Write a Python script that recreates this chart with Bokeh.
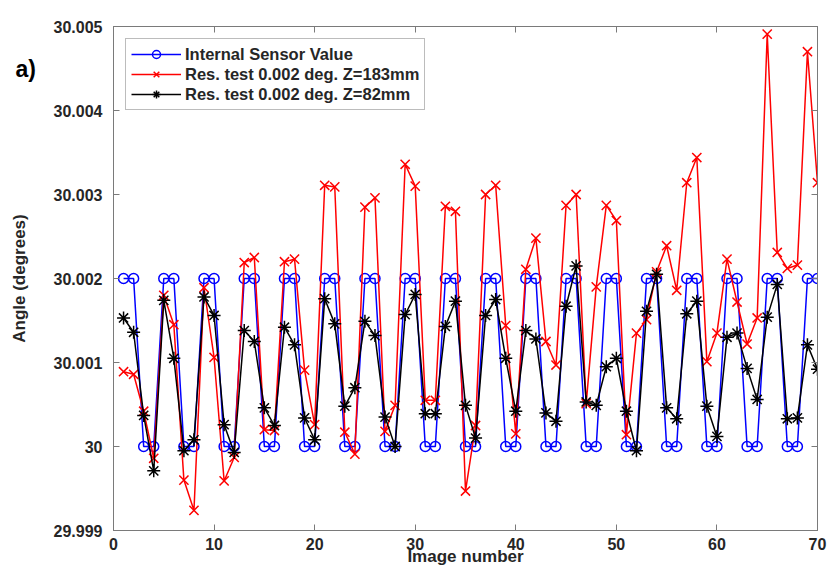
from bokeh.plotting import figure
from bokeh.models import (LinearAxis, FixedTicker, CustomJSTickFormatter, Label,
                          Legend, LegendItem, Range1d)
from bokeh.embed import file_html
from bokeh.resources import INLINE

image_number = list(range(1, 71))

internal_sensor = [
    30.002, 30.002, 30.000, 30.000, 30.002, 30.002, 30.000, 30.000, 30.002, 30.002,
    30.000, 30.000, 30.002, 30.002, 30.000, 30.000, 30.002, 30.002, 30.000, 30.000,
    30.002, 30.002, 30.000, 30.000, 30.002, 30.002, 30.000, 30.000, 30.002, 30.002,
    30.000, 30.000, 30.002, 30.002, 30.000, 30.000, 30.002, 30.002, 30.000, 30.000,
    30.002, 30.002, 30.000, 30.000, 30.002, 30.002, 30.000, 30.000, 30.002, 30.002,
    30.000, 30.000, 30.002, 30.002, 30.000, 30.000, 30.002, 30.002, 30.000, 30.000,
    30.002, 30.002, 30.000, 30.000, 30.002, 30.002, 30.000, 30.000, 30.002, 30.002,
]

res_z183 = [
    30.00089, 30.00086, 30.00042, 29.99986, 30.00180, 30.00145, 29.99960, 29.99924, 30.00189, 30.00106,
    29.99959, 29.99987, 30.00219, 30.00225, 30.00020, 30.00019, 30.00220, 30.00223, 30.00091, 30.00026,
    30.00311, 30.00309, 30.00017, 29.99991, 30.00285, 30.00296, 30.00018, 30.00049, 30.00336, 30.00310,
    30.00055, 30.00055, 30.00286, 30.00280, 29.99947, 30.00025, 30.00300, 30.00311, 30.00144, 30.00015,
    30.00211, 30.00248, 30.00125, 30.00097, 30.00287, 30.00300, 30.00051, 30.00190, 30.00287, 30.00269,
    30.00014, 30.00135, 30.00151, 30.00208, 30.00239, 30.00186, 30.00314, 30.00344, 30.00101, 30.00135,
    30.00223, 30.00172, 30.00122, 30.00153, 30.00491, 30.00231, 30.00212, 30.00216, 30.00470, 30.00314,
]

res_z82 = [
    30.00153, 30.00136, 30.00037, 29.99971, 30.00174, 30.00105, 29.99995, 30.00008, 30.00178, 30.00156,
    30.00026, 29.99993, 30.00138, 30.00125, 30.00046, 30.00025, 30.00142, 30.00121, 30.00034, 30.00008,
    30.00176, 30.00146, 30.00048, 30.00070, 30.00149, 30.00132, 30.00035, 30.00000, 30.00157, 30.00181,
    30.00039, 30.00039, 30.00143, 30.00173, 30.00049, 30.00010, 30.00156, 30.00175, 30.00105, 30.00042,
    30.00138, 30.00128, 30.00040, 30.00030, 30.00167, 30.00215, 30.00053, 30.00049, 30.00095, 30.00105,
    30.00042, 29.99995, 30.00161, 30.00205, 30.00046, 30.00033, 30.00158, 30.00173, 30.00048, 30.00012,
    30.00130, 30.00135, 30.00093, 30.00056, 30.00154, 30.00193, 30.00033, 30.00034, 30.00121, 30.00092,
]

x_ticks = [0, 10, 20, 30, 40, 50, 60, 70]
y_ticks = [29.999, 30.000, 30.001, 30.002, 30.003, 30.004, 30.005]

series_labels = ["Internal Sensor Value",
                 "Res. test 0.002 deg. Z=183mm",
                 "Res. test 0.002 deg. Z=82mm"]

FONT = "Liberation Sans"
AXIS_GRAY = "#7a7a7a"
TXT = "#262626"

p = figure(width=827, height=568, output_backend="svg", toolbar_location=None,
           x_range=Range1d(0, 70), y_range=Range1d(29.999, 30.005),
           min_border_left=113, min_border_right=10, min_border_top=24,
           min_border_bottom=38, x_axis_location=None, y_axis_location=None)
p.grid.visible = False
p.outline_line_color = AXIS_GRAY
p.outline_line_width = 1
p.background_fill_color = "white"
p.border_fill_color = "white"

yfmt = CustomJSTickFormatter(code="return tick.toFixed(3).replace(/\\.?0+$/, '');")

xb = LinearAxis(ticker=FixedTicker(ticks=x_ticks), axis_label="Image number")
yl = LinearAxis(ticker=FixedTicker(ticks=y_ticks), formatter=yfmt,
                axis_label="Angle (degrees)")
xt = LinearAxis(ticker=FixedTicker(ticks=x_ticks))
yr = LinearAxis(ticker=FixedTicker(ticks=y_ticks))

for ax in (xb, yl, xt, yr):
    ax.axis_line_color = AXIS_GRAY
    ax.major_tick_line_color = AXIS_GRAY
    ax.major_tick_in = 6
    ax.major_tick_out = 0
    ax.minor_tick_line_color = None
    ax.major_label_text_font = FONT
    ax.major_label_text_font_style = "bold"
    ax.major_label_text_font_size = "16px"
    ax.major_label_text_color = TXT

for ax in (xt, yr):
    ax.major_label_text_font_size = "0px"
    ax.major_label_standoff = 0

for ax in (xb, yl):
    ax.axis_label_text_font = FONT
    ax.axis_label_text_font_style = "bold"
    ax.axis_label_text_font_size = "17px"
    ax.axis_label_text_color = TXT

xb.major_label_standoff = 7
xb.axis_label_standoff = -6
yl.major_label_standoff = 11
yl.axis_label_standoff = 22

p.add_layout(xb, "below")
p.add_layout(yl, "left")
p.add_layout(xt, "above")
p.add_layout(yr, "right")

# panel tag, placed in a side panel so it is not clipped to the frame
p.add_layout(Label(x=1, y=30.004, x_offset=-108, y_offset=42, text="a)",
                   text_font=FONT, text_font_style="bold", text_font_size="23px",
                   text_line_height=1.0,
                   text_color="#000000", text_align="left", text_baseline="middle"),
             "above")

l1 = p.line(image_number, internal_sensor, line_color="#0000ff", line_width=1.5)
s1 = p.scatter(image_number, internal_sensor, marker="circle", size=10,
               line_color="#0000ff", fill_color=None, line_width=1.5)
l2 = p.line(image_number, res_z183, line_color="#ff0000", line_width=1.5)
s2 = p.scatter(image_number, res_z183, marker="x", size=13,
               line_color="#ff0000", line_width=1.5)
l3 = p.line(image_number, res_z82, line_color="#000000", line_width=1.5)
s3 = p.scatter(image_number, res_z82, marker="asterisk", size=13,
               line_color="#000000", line_width=1.5)

legend = Legend(items=[
    LegendItem(label=series_labels[0], renderers=[l1, s1]),
    LegendItem(label=series_labels[1], renderers=[l2, s2]),
    LegendItem(label=series_labels[2], renderers=[l3, s3]),
], location="top_left")
legend.margin = 12
legend.padding = 5
legend.spacing = 0
legend.glyph_width = 50
legend.glyph_height = 20
legend.label_height = 20
legend.label_standoff = 4
legend.label_text_font = FONT
legend.label_text_font_style = "bold"
legend.label_text_font_size = "16.5px"
legend.label_text_color = TXT
legend.border_line_color = AXIS_GRAY
legend.border_line_width = 1
legend.background_fill_color = "white"
legend.background_fill_alpha = 1.0
p.add_layout(legend, "center")

open("out.html", "w").write(file_html(p, INLINE))
